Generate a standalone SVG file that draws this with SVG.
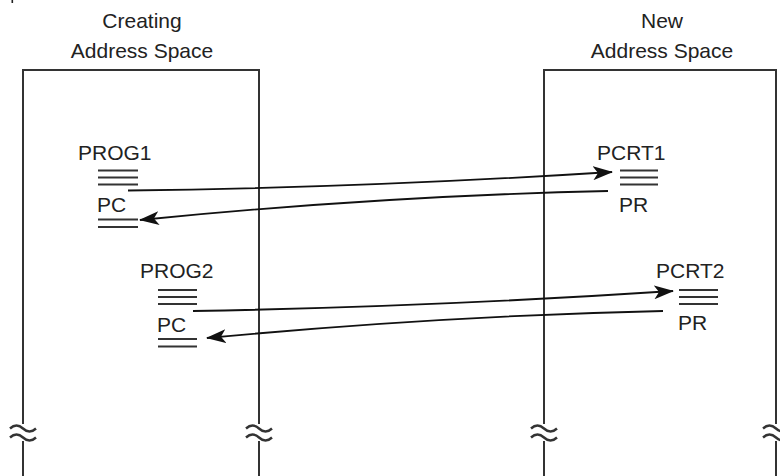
<svg xmlns="http://www.w3.org/2000/svg" width="780" height="476" viewBox="0 0 780 476">
<defs>
<style>
.t{font-family:"Liberation Sans",Arial,sans-serif;font-size:21px;fill:#222}
.box{fill:none;stroke:#333;stroke-width:2}
.bar{stroke:#333;stroke-width:2.2}
.conn{fill:none;stroke:#111;stroke-width:1.8}
.brk{fill:none;stroke:#333;stroke-width:2.4}
</style>
<marker id="ah" viewBox="0 0 20 14" refX="19" refY="7" markerWidth="20" markerHeight="14" markerUnits="userSpaceOnUse" orient="auto">
<path d="M0,0 L20,7 L0,14 L5,7 Z" fill="#111"/>
</marker>
</defs>
<rect x="11.5" y="0" width="1.6" height="3" fill="#222"/>
<g id="creating-space">
<text class="t" x="142" y="28" text-anchor="middle">Creating</text>
<text class="t" x="142" y="58" text-anchor="middle">Address Space</text>
<path class="box" d="M23,476 V441 M23,424 V70 H259 V424 M259,441 V476"/>
<path class="brk" d="M10,428.5 q6.5,-6 13,0 t13,0 M10,437.5 q6.5,-6 13,0 t13,0"/>
<path class="brk" d="M246,428.5 q6.5,-6 13,0 t13,0 M246,437.5 q6.5,-6 13,0 t13,0"/>
</g>
<g id="new-space">
<text class="t" x="662" y="28" text-anchor="middle">New</text>
<text class="t" x="662" y="58" text-anchor="middle">Address Space</text>
<path class="box" d="M544,476 V441 M544,424 V70 H776 V424 M776,441 V476"/>
<path class="brk" d="M531,428.5 q6.5,-6 13,0 t13,0 M531,437.5 q6.5,-6 13,0 t13,0"/>
<path class="brk" d="M763,428.5 q6.5,-6 13,0 t13,0 M763,437.5 q6.5,-6 13,0 t13,0"/>
</g>
<g id="prog1">
<text class="t" x="78" y="160">PROG1</text>
<path class="bar" d="M98,170.5 H138 M98,177.5 H138 M98,184.5 H138"/>
<text class="t" x="97" y="212">PC</text>
<path class="bar" d="M98,219.5 H138 M98,227 H138"/>
</g>
<g id="prog2">
<text class="t" x="140" y="278">PROG2</text>
<path class="bar" d="M158,290 H197 M158,297 H197 M158,304 H197"/>
<text class="t" x="157" y="332">PC</text>
<path class="bar" d="M158,339 H197 M158,346.5 H197"/>
</g>
<g id="pcrt1">
<text class="t" x="597" y="160">PCRT1</text>
<path class="bar" d="M620,170.5 H658 M620,177.5 H658 M620,184.5 H658"/>
<text class="t" x="619" y="212">PR</text>
</g>
<g id="pcrt2">
<text class="t" x="656" y="278">PCRT2</text>
<path class="bar" d="M679,290 H718 M679,297 H718 M679,304 H718"/>
<text class="t" x="678" y="330">PR</text>
</g>
<g id="connectors">
<path class="conn" d="M128,190.5 Q360,188 612,172" marker-end="url(#ah)"/>
<path class="conn" d="M608,191 Q380,196 140,220" marker-end="url(#ah)"/>
<path class="conn" d="M193,311 Q430,307 673,291" marker-end="url(#ah)"/>
<path class="conn" d="M663,311 Q440,316 207,338" marker-end="url(#ah)"/>
</g>
</svg>
